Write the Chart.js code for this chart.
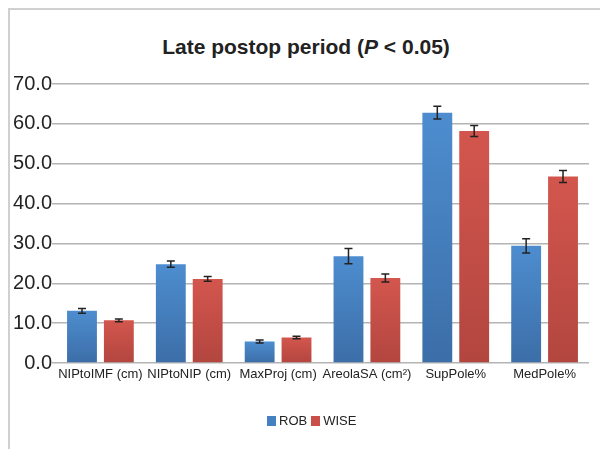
<!DOCTYPE html>
<html>
<head>
<meta charset="utf-8">
<script src="https://cdn.jsdelivr.net/npm/chart.js@4"></script>
<style>
  body { margin: 0; background: #fff; font-family: "Liberation Sans", Arial, sans-serif; }
  #wrap { position: relative; width: 600px; height: 449px; overflow: hidden; }
  #frame { position: absolute; left: 8px; top: 8px; width: 700px; height: 600px;
           border-top: 2px solid #d0d0d0; border-left: 2px solid #d0d0d0; }
  #title { position: absolute; left: 0; width: 612px; top: 35px; text-align: center;
           font-weight: bold; font-size: 21px; color: #222; }
  #legend { position: absolute; left: 267px; top: 413px; font-size: 13px; color: #222;
            white-space: nowrap; }
  #legend span.box { display: inline-block; width: 9px; height: 10px; margin-right: 3px;
                     vertical-align: -1px; }
  #legend span.item { margin-right: 4px; }
  canvas { position: absolute; left: 0; top: 0; }
</style>
</head>
<body>
<div id="wrap">
  <div id="frame"></div>
  <div id="title">Late postop period (<i>P</i> &lt; 0.05)</div>
  <canvas id="chart" width="600" height="449"></canvas>
  <div id="legend"></div>
</div>
<script>
// categorias e valores
const categories = ['NIPtoIMF (cm)', 'NIPtoNIP (cm)', 'MaxProj (cm)', 'AreolaSA (cm²)', 'SupPole%', 'MedPole%'];
const robValues = [13.1, 24.8, 5.4, 26.8, 62.8, 29.4];
const robErrors = [0.6, 0.8, 0.4, 1.9, 1.6, 1.8];
const wiseValues = [10.7, 21.1, 6.4, 21.3, 58.2, 46.8];
const wiseErrors = [0.35, 0.6, 0.3, 1.0, 1.4, 1.5];
const yTicks = [0, 10, 20, 30, 40, 50, 60, 70];

// gradiente por barra (mais claro em cima)
function barGradient(top, bottom) {
    return function (ctx) {
        const chart = ctx.chart;
        const y = chart.scales.y;
        if (!chart.chartArea || !y || ctx.raw === undefined) return bottom;
        const y0 = y.getPixelForValue(ctx.raw);
        const y1 = y.getPixelForValue(0);
        if (!isFinite(y0) || !isFinite(y1)) return bottom;
        const g = chart.ctx.createLinearGradient(0, y0, 0, y1);
        g.addColorStop(0, top);
        g.addColorStop(1, bottom);
        return g;
    };
}

// barras de erro
const errorBars = {
    id: 'errorBars',
    afterDatasetsDraw(chart) {
        const ctx = chart.ctx;
        const y = chart.scales.y;
        ctx.save();
        ctx.strokeStyle = '#222';
        ctx.lineWidth = 1.5;
        chart.data.datasets.forEach((ds, i) => {
            const meta = chart.getDatasetMeta(i);
            meta.data.forEach((bar, j) => {
                const v = ds.data[j];
                const e = ds.errors[j];
                const y1 = y.getPixelForValue(v + e);
                const y2 = y.getPixelForValue(v - e);
                ctx.beginPath();
                ctx.moveTo(bar.x, y1); ctx.lineTo(bar.x, y2);
                ctx.moveTo(bar.x - 4, y1); ctx.lineTo(bar.x + 4, y1);
                ctx.moveTo(bar.x - 4, y2); ctx.lineTo(bar.x + 4, y2);
                ctx.stroke();
            });
        });
        ctx.restore();
    }
};

const ctx = document.getElementById('chart').getContext('2d');
const chart = new Chart(ctx, {
    type: 'bar',
    data: {
        labels: categories,
        datasets: [{
            label: 'ROB',
            data: robValues,
            errors: robErrors,
            legendColor: '#4580c2',
            backgroundColor: barGradient('#4d8dcf', '#3c6ea8'),
            borderWidth: 0
        }, {
            label: 'WISE',
            data: wiseValues,
            errors: wiseErrors,
            legendColor: '#c94f48',
            backgroundColor: barGradient('#d3564e', '#b2463f'),
            borderWidth: 0
        }]
    },
    options: {
        responsive: false,
        animation: false,
        categoryPercentage: 0.83,
        barPercentage: 0.81,
        layout: { padding: { left: 0, right: 11, top: 84, bottom: 0 } },
        plugins: {
            title: { display: false },
            tooltip: { enabled: false },
            legend: { display: false }
        },
        scales: {
            x: {
                grid: { display: false, drawTicks: false },
                border: { display: false },
                ticks: {
                    color: '#222', padding: 4, maxRotation: 0, autoSkip: false,
                    font: { family: '"Liberation Sans", Arial', size: 13 }
                },
                afterFit(scale) { scale.height = 86; }
            },
            y: {
                min: 0, max: 70,
                afterBuildTicks(scale) { scale.ticks = yTicks.map(v => ({ value: v })); },
                grid: { color: '#b4b4b4', lineWidth: 1.5, drawTicks: true, tickLength: 4 },
                border: { display: false },
                ticks: {
                    color: '#222', padding: 0,
                    font: { family: '"Liberation Sans", Arial', size: 20 },
                    callback: v => v.toFixed(1)
                },
                afterFit(scale) { scale.width = 56; }
            }
        }
    },
    plugins: [errorBars]
});

// legenda em HTML
document.getElementById('legend').innerHTML = chart.data.datasets.map(ds =>
    `<span class="item"><span class="box" style="background:${ds.legendColor}"></span>${ds.label}</span>`
).join('');
</script>
</body>
</html>
